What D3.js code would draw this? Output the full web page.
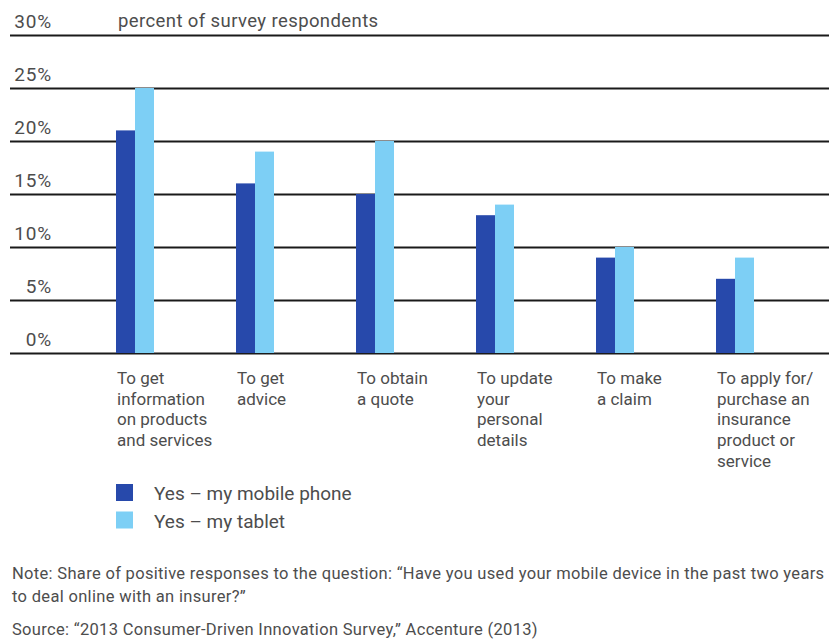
<!DOCTYPE html>
<html>
<head>
<meta charset="utf-8">
<script src="https://cdn.jsdelivr.net/npm/d3@7"></script>
<style>
  body { margin: 0; background: #fff; }
  svg { display: block; }
  text { font-family: Roboto, "Liberation Sans", sans-serif; fill: #4d4d4d; }
</style>
</head>
<body>
<div id="chart"></div>
<script>
const width = 829;
const height = 641;

// Data
const categories = [
    "To get\ninformation\non products\nand services",
    "To get\nadvice",
    "To obtain\na quote",
    "To update\nyour\npersonal\ndetails",
    "To make\na claim",
    "To apply for/\npurchase an\ninsurance\nproduct or\nservice",
];
const seriesNames = ["Yes – my mobile phone", "Yes – my tablet"];
const mobileValues = [21, 16, 15, 13, 9, 7];
const tabletValues = [25, 19, 20, 14, 10, 9];
const yTicks = [0, 5, 10, 15, 20, 25, 30];
const colors = ["#2749ab", "#7dcff5"];

const rows = categories.map((c, i) => ({
    cat: c,
    values: [mobileValues[i], tabletValues[i]],
}));

const svg = d3
    .select("#chart")
    .append("svg")
    .attr("width", width)
    .attr("height", height);

const y = d3.scaleLinear().domain([0, 30]).range([353, 35]);

const x0 = d3.scaleBand().domain(categories).range([116, 836]).padding(0);
const x1 = d3.scaleBand().domain([0, 1]).range([0, 38]).padding(0);

// Gridlines + tick labels (labels sit above their line, right-aligned)
const yAxis = svg
    .append("g")
    .attr("transform", "translate(10,0)")
    .call(
        d3
            .axisRight(y)
            .tickValues(yTicks)
            .tickSize(width - 10)
            .tickFormat((d) => d + "%")
    );
yAxis.select(".domain").remove();
yAxis.selectAll(".tick line").attr("stroke", "#1a1a1a").attr("stroke-width", 2);
yAxis
    .selectAll(".tick text")
    .attr("x", 42)
    .attr("dy", -8)
    .attr("text-anchor", "end")
    .style("font-size", "19px")
    .style("letter-spacing", "0.8px")
    .style("fill", "#4d4d4d");

svg.append("text")
    .attr("x", 118)
    .attr("y", 27)
    .style("font-size", "18.5px")
    .style("letter-spacing", "0.4px")
    .text("percent of survey respondents");

// Bars
const groups = svg
    .selectAll("g.group")
    .data(rows)
    .enter()
    .append("g")
    .attr("class", "group")
    .attr("transform", (d) => `translate(${x0(d.cat)},0)`);

groups
    .selectAll("rect")
    .data((d) => d.values.map((v, i) => ({ v, i })))
    .enter()
    .append("rect")
    .attr("x", (d) => x1(d.i))
    .attr("width", x1.bandwidth())
    .attr("y", (d) => y(d.v))
    .attr("height", (d) => y(0) - y(d.v))
    .attr("fill", (d) => colors[d.i]);

// Category labels
groups
    .append("text")
    .attr("x", 1)
    .attr("y", 384)
    .style("font-size", "17px")
    .selectAll("tspan")
    .data((d) => d.cat.split("\n"))
    .enter()
    .append("tspan")
    .attr("x", 1)
    .attr("dy", (d, i) => (i === 0 ? 0 : 20.7))
    .text((d) => d);

// Legend
const legend = svg
    .selectAll("g.legend")
    .data(seriesNames)
    .enter()
    .append("g")
    .attr("class", "legend")
    .attr("transform", (d, i) => `translate(116,${484 + i * 27.5})`);

legend
    .append("rect")
    .attr("width", 17)
    .attr("height", 17)
    .attr("fill", (d, i) => colors[i]);

legend
    .append("text")
    .attr("x", 38)
    .attr("y", 16)
    .style("font-size", "19px")
    .text((d) => d);

// Notes
const notes = [
    { t: "Note: Share of positive responses to the question: \u201CHave you used your mobile device in the past two years", y: 579 },
    { t: "to deal online with an insurer?\u201D", y: 602 },
    { t: "Source: \u201C2013 Consumer-Driven Innovation Survey,\u201D Accenture (2013)", y: 635 },
];
svg.selectAll("text.note")
    .data(notes)
    .enter()
    .append("text")
    .attr("class", "note")
    .attr("x", 12)
    .attr("y", (d) => d.y)
    .style("font-size", "16.5px")
    .style("letter-spacing", "0.32px")
    .text((d) => d.t);
</script>
</body>
</html>
